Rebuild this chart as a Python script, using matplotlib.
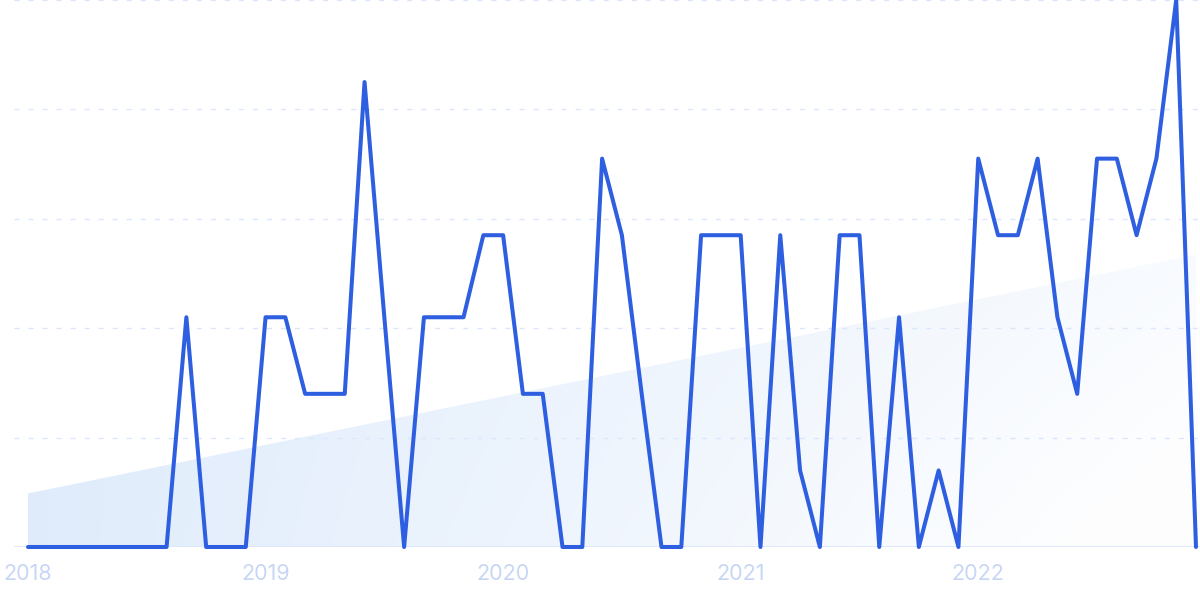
import numpy as np
import matplotlib.pyplot as plt
from matplotlib.patches import Polygon

# monthly interest index (0-100), Jan 2018 .. Dec 2022
values = [0, 0, 0, 0, 0, 0, 0, 0, 42, 0,
          0, 0, 42, 42, 28, 28, 28, 85, 42, 0,
          42, 42, 42, 57, 57, 28, 28, 0, 0, 71,
          57, 28, 0, 0, 57, 57, 57, 0, 57, 14,
          0, 57, 57, 0, 42, 0, 14, 0, 71, 57,
          57, 71, 42, 28, 71, 71, 57, 71, 100, 0]
years = ['2018', '2019', '2020', '2021', '2022']

months = np.arange(len(values))
year_ticks = [12 * i for i in range(len(years))]

line_color = '#2f5fe1'
grid_color = '#dbe6fb'
label_color = '#c8d6f5'

fig = plt.figure(figsize=(12, 5.99), dpi=100)
ax = fig.add_axes([14 / 1200, 52 / 599, 1186 / 1200, 547 / 599])

# trend area with a soft gradient
slope, icpt = np.polyfit(months, values, 1)
trend = icpt + slope * months
poly = Polygon([(0, 0)] + list(zip(months, trend)) + [(months[-1], 0)],
               closed=True, facecolor='none', edgecolor='none')
ax.add_patch(poly)
gx, gy = np.meshgrid(np.linspace(0, 1, 300), np.linspace(0, 1, 100))
alpha = np.clip(0.88 - 0.68 * gx - 0.25 * (1 - gy) * gx, 0.05, 1)
img = np.zeros((100, 300, 4))
img[..., 0] = 0.86
img[..., 1] = 0.915
img[..., 2] = 0.985
img[..., 3] = alpha
im = ax.imshow(img, extent=(0, months[-1], 0, trend.max()), origin='lower',
               aspect='auto', zorder=1)
im.set_clip_path(poly)

ax.plot(months, values, color=line_color, lw=2.9, solid_joinstyle='round',
        solid_capstyle='round', zorder=3, clip_on=False)

ax.set_xlim(-14 / 19.797, months[-1] + 4 / 19.797)
ax.set_ylim(0, 100)
ax.set_yticks(np.arange(0, 101, 20))
ax.yaxis.grid(True, color=grid_color, lw=1, linestyle=(0, (3.6, 6.5)))
ax.axhline(0, color=grid_color, lw=1.2, zorder=2)
ax.set_axisbelow(True)

ax.set_xticks(year_ticks)
ax.set_xticklabels(years, fontfamily='Inter', fontsize=15.5, color=label_color)
ax.tick_params(axis='x', length=0, pad=12)
ax.tick_params(axis='y', length=0, labelleft=False)
for s in ax.spines.values():
    s.set_visible(False)

fig.savefig('out.png', dpi=100)
